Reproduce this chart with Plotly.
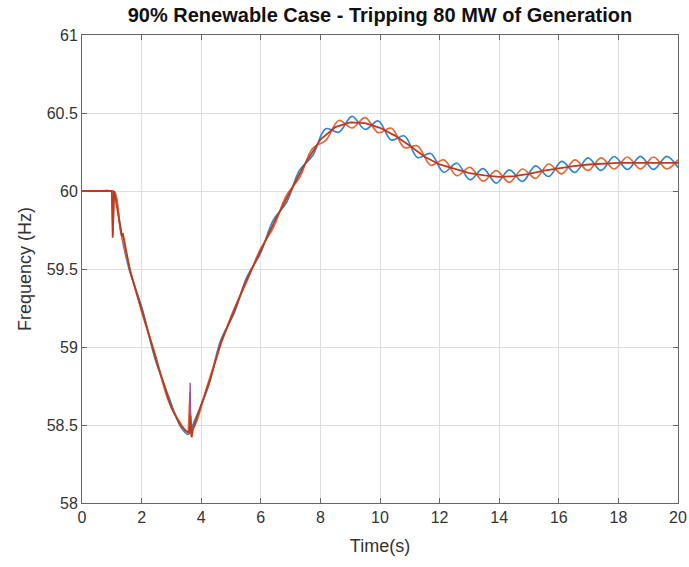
import plotly.graph_objects as go

# Simulated system frequency after losing 80 MW of generation (90% renewable case)

# Bus frequency, first measurement (blue)
t_blue = [0.0, 0.5, 1.00, 1.10, 1.30, 1.58, 2.02, 2.46, 2.90, 3.34, 3.56, 3.78,
          4.22, 4.66, 5.10, 5.54, 5.98, 6.42, 6.86, 7.30, 7.74, 8.18, 8.62, 9.06,
          9.50, 9.94, 10.38, 10.82, 11.26, 11.70, 12.14, 12.58, 13.02, 13.46, 13.90,
          14.34, 14.78, 15.22, 15.66, 16.10, 16.54, 16.98, 17.42, 17.86, 18.30,
          18.74, 19.18, 19.62, 20.00]
f_blue = [60.0, 60.0, 60.0, 59.99, 59.74, 59.50, 59.245, 58.92, 58.685, 58.48, 58.44, 58.53,
          58.735, 59.045, 59.215, 59.451, 59.597, 59.813, 59.925, 60.133, 60.227, 60.399, 60.377, 60.479,
          60.395, 60.449, 60.327, 60.353, 60.214, 60.24, 60.12, 60.178, 60.072, 60.143, 60.05,
          60.135, 60.061, 60.161, 60.093, 60.19, 60.119, 60.212, 60.132, 60.221, 60.138,
          60.222, 60.138, 60.222, 60.15]

# Bus frequency, second measurement (orange)
t_orange = [0.0, 0.5, 1.00, 1.10, 1.30, 1.58, 2.02, 2.46, 2.90, 3.34, 3.56, 3.78,
            4.22, 4.66, 5.10, 5.54, 5.98, 6.42, 6.86, 7.30, 7.74, 8.18, 8.62, 9.06,
            9.50, 9.94, 10.38, 10.82, 11.26, 11.70, 12.14, 12.58, 13.02, 13.46, 13.90,
            14.34, 14.78, 15.22, 15.66, 16.10, 16.54, 16.98, 17.42, 17.86, 18.30,
            18.74, 19.18, 19.62, 20.00]
f_orange = [60.0, 60.0, 60.0, 59.99, 59.75, 59.52, 59.215, 58.95, 58.655, 58.50, 58.45, 58.495,
            58.763, 59.017, 59.243, 59.423, 59.625, 59.766, 59.972, 60.086, 60.274, 60.324, 60.452, 60.404,
            60.47, 60.374, 60.402, 60.278, 60.289, 60.165, 60.20, 60.098, 60.152, 60.063, 60.13,
            60.055, 60.141, 60.081, 60.173, 60.11, 60.199, 60.132, 60.212, 60.141, 60.218,
            60.142, 60.218, 60.142, 60.20]

# Switching transients on the second measurement
t_orange_spk = [1.00, 1.04, 1.09, None, 3.56, 3.62, 3.66, 3.70, 3.78]
f_orange_spk = [60.0, 59.72, 59.99, None, 58.45, 58.71, 58.43, 58.47, 58.50]

# Transient at the frequency nadir (purple)
t_purple = [3.55, 3.61, 3.63, 3.65, 3.72]
f_purple = [58.46, 58.47, 58.77, 58.46, 58.48]

# Centre-of-inertia frequency (dark red)
t_coi = [0.0, 1.00, 1.03, 1.07, 1.10, 1.30, 1.34, 1.37, 1.61, 2.0, 2.5, 3.0, 3.3, 3.5, 3.6,
         3.64, 3.68, 3.72, 3.8, 4.0, 4.3, 4.66, 5.1, 5.5, 6.0, 6.5, 7.0, 7.5, 8.0, 8.5,
         9.0, 9.5, 10.0, 10.5, 11.0, 11.5, 12.0, 12.5, 13.0, 13.5, 14.0, 14.5, 15.0,
         15.5, 16.0, 16.5, 17.0, 17.5, 18.0, 18.5, 19.0, 19.5, 20.0]
f_coi = [60.0, 60.0, 59.70, 60.0, 59.98, 59.74, 59.71, 59.73, 59.49, 59.24, 58.91, 58.61, 58.50, 58.46, 58.45,
         58.56, 58.42, 58.47, 58.52, 58.63, 58.79, 59.03, 59.23, 59.42, 59.62, 59.82, 60.0, 60.18, 60.33, 60.41,
         60.44, 60.435, 60.405, 60.355, 60.29, 60.22, 60.17, 60.14, 60.115, 60.10, 60.09, 60.095, 60.11,
         60.13, 60.145, 60.16, 60.17, 60.175, 60.18, 60.18, 60.18, 60.18, 60.18]

x_ticks = [0, 2, 4, 6, 8, 10, 12, 14, 16, 18, 20]
y_ticks = [58, 58.5, 59, 59.5, 60, 60.5, 61]
y_tick_text = ["58", "58.5", "59", "59.5", "60", "60.5", "61"]

FONT = "Liberation Sans, Arial, Helvetica, sans-serif"

fig = go.Figure()
fig.add_trace(go.Scatter(x=t_blue, y=f_blue, mode="lines",
                         line=dict(color="#2E86D0", width=1.7, shape="spline", smoothing=1.0)))
fig.add_trace(go.Scatter(x=t_orange, y=f_orange, mode="lines",
                         line=dict(color="#E2693A", width=1.7, shape="spline", smoothing=1.0)))
fig.add_trace(go.Scatter(x=t_orange_spk, y=f_orange_spk, mode="lines", connectgaps=False,
                         line=dict(color="#E2693A", width=1.4)))
fig.add_trace(go.Scatter(x=t_purple, y=f_purple, mode="lines",
                         line=dict(color="#A0509A", width=1.4)))
fig.add_trace(go.Scatter(x=t_coi, y=f_coi, mode="lines",
                         line=dict(color="#BE3A1E", width=1.8)))

axis_common = dict(
    showline=True, linecolor="#666666", linewidth=1, mirror="ticks",
    ticks="inside", ticklen=5, tickcolor="#666666", tickwidth=1,
    showgrid=True, gridcolor="#dedede", gridwidth=1, zeroline=False,
    automargin=False,
    tickfont=dict(family=FONT, size=16, color="#333333"),
)

fig.update_layout(
    width=689, height=567,
    margin=dict(l=82, r=11, t=35, b=64),
    paper_bgcolor="white", plot_bgcolor="white",
    showlegend=False,
    title=dict(text="<b>90% Renewable Case - Tripping 80 MW of Generation</b>",
               x=0.5, xref="paper", xanchor="center", y=1 - 15 / 567, yanchor="middle",
               font=dict(family=FONT, size=20, color="#111111")),
    xaxis=dict(range=[0, 20], tickvals=x_ticks, ticktext=[str(v) for v in x_ticks],
               title=dict(text="Time(s)", standoff=14,
                          font=dict(family=FONT, size=18, color="#333333")),
               **axis_common),
    yaxis=dict(range=[58, 61], tickvals=y_ticks, ticktext=y_tick_text,
               title=dict(text="Frequency (Hz)", standoff=10,
                          font=dict(family=FONT, size=18, color="#333333")),
               **axis_common),
)

fig.write_html("out.html", config={"displayModeBar": False})
